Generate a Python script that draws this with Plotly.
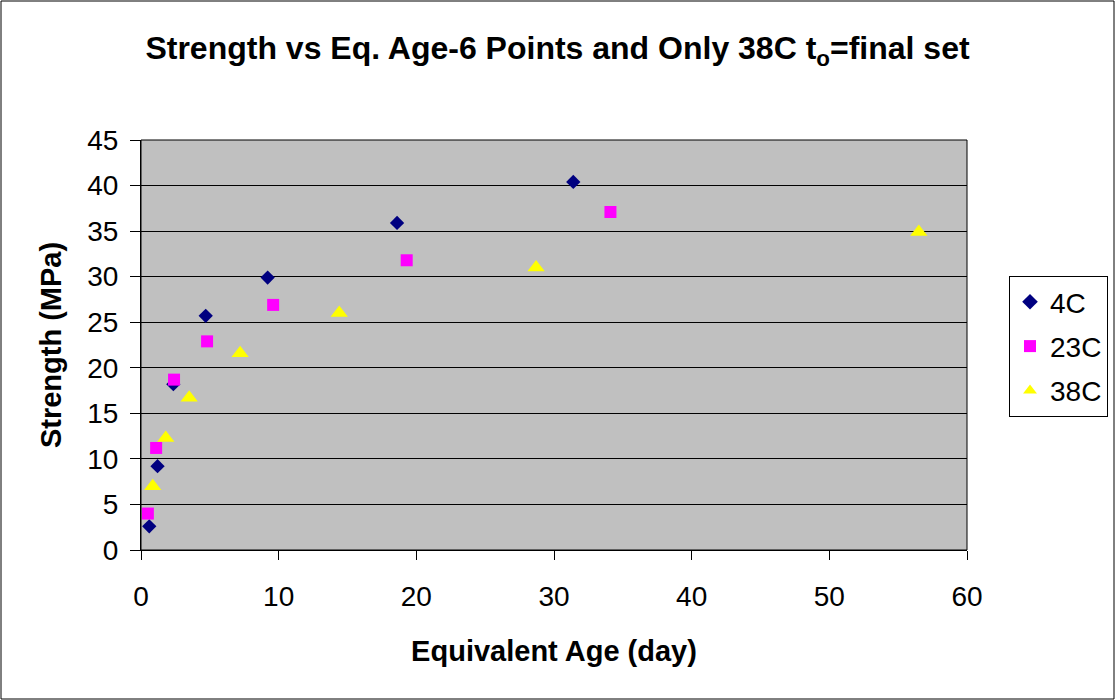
import plotly.graph_objects as go

# Equivalent age (day) and compressive strength (MPa) per curing temperature
age_4c = [0.6, 1.2, 2.35, 4.7, 9.2, 18.6, 31.4]
strength_4c = [2.6, 9.2, 18.2, 25.7, 29.9, 35.9, 40.4]

age_23c = [0.5, 1.1, 2.4, 4.8, 9.6, 19.3, 34.1]
strength_23c = [4.0, 11.2, 18.7, 22.9, 26.9, 31.8, 37.1]

age_38c = [0.85, 1.8, 3.5, 7.2, 14.4, 28.7, 56.5]
strength_38c = [7.0, 12.3, 16.7, 21.6, 26.0, 31.0, 34.9]

FONT = "Liberation Sans, Arial, sans-serif"

fig = go.Figure()
fig.add_trace(go.Scatter(x=age_4c, y=strength_4c, mode="markers", name="4C", legendgroup="4C",
                         marker=dict(symbol="diamond", size=11, color="#000080")))
fig.add_trace(go.Scatter(x=age_23c, y=strength_23c, mode="markers", name="23C", legendgroup="23C",
                         marker=dict(symbol="square", size=12, color="#FF00FF")))
fig.add_trace(go.Scatter(x=age_38c, y=strength_38c, mode="markers", name="38C", legendgroup="38C",
                         marker=dict(symbol="triangle-up", size=15, color="#FFFF00")))

L, R, T, B = 141, 148, 140, 150
W, H = 1115, 700
pw, ph = W - L - R, H - T - B

fig.update_layout(
    width=W, height=H,
    margin=dict(l=L, r=R, t=T, b=B, autoexpand=False),
    paper_bgcolor="white",
    plot_bgcolor="#C0C0C0",
    font=dict(family=FONT, color="black"),
    title=dict(text="<b>Strength vs Eq. Age-6 Points and Only 38C t<sub>o</sub>=final set</b>",
               x=0.5, xanchor="center", y=1 - 48 / H, yanchor="middle",
               font=dict(size=32, family=FONT)),
    xaxis=dict(range=[0, 60], dtick=10, showgrid=False, zeroline=False,
               showline=True, linecolor="black", linewidth=1,
               ticks="outside", ticklen=9, tickcolor="black",
               tickfont=dict(size=28), ticklabelstandoff=12,
               title=dict(text="<b>Equivalent Age (day)</b>", font=dict(size=29), standoff=30)),
    yaxis=dict(range=[0, 45], dtick=5, showgrid=True, gridcolor="black", gridwidth=1,
               zeroline=False, showline=True, linecolor="black", linewidth=1,
               ticks="outside", ticklen=10, tickcolor="black",
               tickfont=dict(size=28), ticklabelstandoff=6,
               title=dict(text="<b>Strength (MPa)</b>", font=dict(size=29), standoff=17)),
    legend=dict(x=(1009 - L) / pw, y=1 - (276 - T) / ph, xanchor="left", yanchor="top",
                bordercolor="black", borderwidth=1, bgcolor="white",
                font=dict(size=28), itemsizing="constant",
                traceorder="grouped", tracegroupgap=5),
    showlegend=True,
)

# Plot-area frame and outer chart border
fig.add_shape(type="rect", xref="paper", yref="paper", x0=0, x1=1, y0=0, y1=1,
              line=dict(color="black", width=1))
fig.add_shape(type="rect", xref="paper", yref="paper",
              x0=-(L - 1) / pw, x1=1 + (R - 1) / pw,
              y0=-(B - 1) / ph, y1=1 + (T - 1) / ph,
              line=dict(color="black", width=1))

fig.write_html("out.html")
